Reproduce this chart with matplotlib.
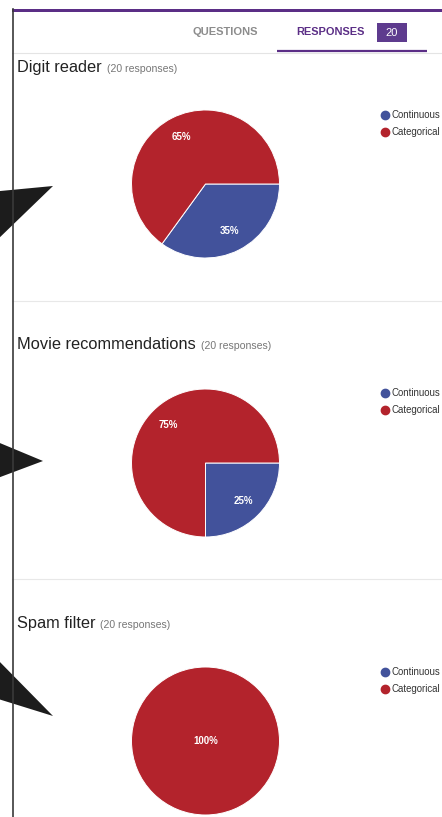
import matplotlib
matplotlib.use("Agg")
import matplotlib.pyplot as plt
from matplotlib.patches import Polygon, Rectangle
from matplotlib.lines import Line2D

plt.rcParams["font.family"] = ["Liberation Sans", "DejaVu Sans"]

## data
questions = ["Digit reader", "Movie recommendations", "Spam filter"]
n_responses = [20, 20, 20]
answer_labels = ["Continuous", "Categorical"]
continuous_counts = [7, 5, 0]
categorical_counts = [13, 15, 20]
total_responses = 20

## look
BLUE = "#42529b"
RED = "#b3232c"
PURPLE = "#5b2e86"
W, H = 442, 817

# section layout in pixels (y measured from top)
title_baseline = [72, 349, 628]
pie_center_y = [184, 463, 741]
legend_top = [110, 388, 667]
separators = [301, 579]
pie_cx = 205.5
pie_r = 74

fig = plt.figure(figsize=(W / 100, H / 100), dpi=100)
fig.patch.set_facecolor("white")

bg = fig.add_axes([0, 0, 1, 1])
bg.set_xlim(0, W)
bg.set_ylim(H, 0)
bg.axis("off")

# header
bg.add_patch(Rectangle((12, 8.5), W - 12, 3.5, color=PURPLE, lw=0, zorder=3))
bg.text(225, 32, "QUESTIONS", ha="center", va="center", fontsize=8,
        fontweight="bold", color="#8c8c8c")
bg.text(330, 32, "RESPONSES", ha="center", va="center", fontsize=7.9,
        fontweight="bold", color=PURPLE)
bg.add_patch(Rectangle((377, 23), 30, 19, color="#5e3b8e", lw=0))
bg.text(392, 32.5, str(total_responses), ha="center", va="center", fontsize=8,
        color="white")
bg.plot([277, 427], [50.5, 50.5], color=PURPLE, lw=1.6, solid_capstyle="butt")
bg.plot([12, W], [52.5, 52.5], color="#e4e4e4", lw=0.8)

for y in separators:
    bg.plot([12, W], [y, y], color="#e8e8e8", lw=0.8)

# left border + the black pointer triangles
bg.plot([12.5, 12.5], [9, H], color="#3a3a3a", lw=1.2, zorder=5)
arrows = [
    [(53, 186), (-5, 191.5), (-5, 242)],
    [(43, 461), (-5, 441), (-5, 479)],
    [(53, 716), (-5, 657), (-5, 698)],
]
for pts in arrows:
    bg.add_patch(Polygon(pts, closed=True, color="#1c1c1c", lw=0, zorder=4))

def pct_label(p):
    if p <= 0:
        return ""
    return "{:.0f}%".format(p)

L = 1.02
for i, q in enumerate(questions):
    t = bg.text(17, title_baseline[i], q, ha="left", va="baseline",
                fontsize=11.8, color="#222222")
    fig.canvas.draw()
    bb = t.get_window_extent()
    bg.text(bb.x1 + 5, title_baseline[i], "({} responses)".format(n_responses[i]),
            ha="left", va="baseline", fontsize=7.6, color="#777777")

    cy = pie_center_y[i]
    ax = fig.add_axes([(pie_cx - pie_r * L) / W, 1 - (cy + pie_r * L) / H,
                       2 * pie_r * L / W, 2 * pie_r * L / H])
    counts = [continuous_counts[i], categorical_counts[i]]
    full = max(counts) == sum(counts)
    wedges, _, autotexts = ax.pie(
        counts, colors=[BLUE, RED], startangle=0, counterclock=False,
        autopct=pct_label, pctdistance=0 if full else 0.72,
        wedgeprops=dict(edgecolor="white", linewidth=0.7),
        textprops=dict(color="white", fontsize=7, fontweight="bold"),
    )
    for w, c in zip(wedges, counts):
        if c == 0:
            w.set_linewidth(0)
    ax.set_xlim(-L, L)
    ax.set_ylim(-L, L)
    ax.set_aspect("equal")
    ax.axis("off")

    handles = [Line2D([], [], ls="none", marker="o", markersize=6,
                      markerfacecolor=c, markeredgecolor=c) for c in [BLUE, RED]]
    fig.legend(handles, answer_labels, loc="upper left",
               bbox_to_anchor=(381 / W, 1 - legend_top[i] / H),
               frameon=False, fontsize=6.9, handlelength=0.8, handletextpad=0.3,
               labelspacing=0.74, borderpad=0, borderaxespad=0,
               labelcolor="#333333")

fig.savefig("out.png", dpi=100, facecolor="white")
